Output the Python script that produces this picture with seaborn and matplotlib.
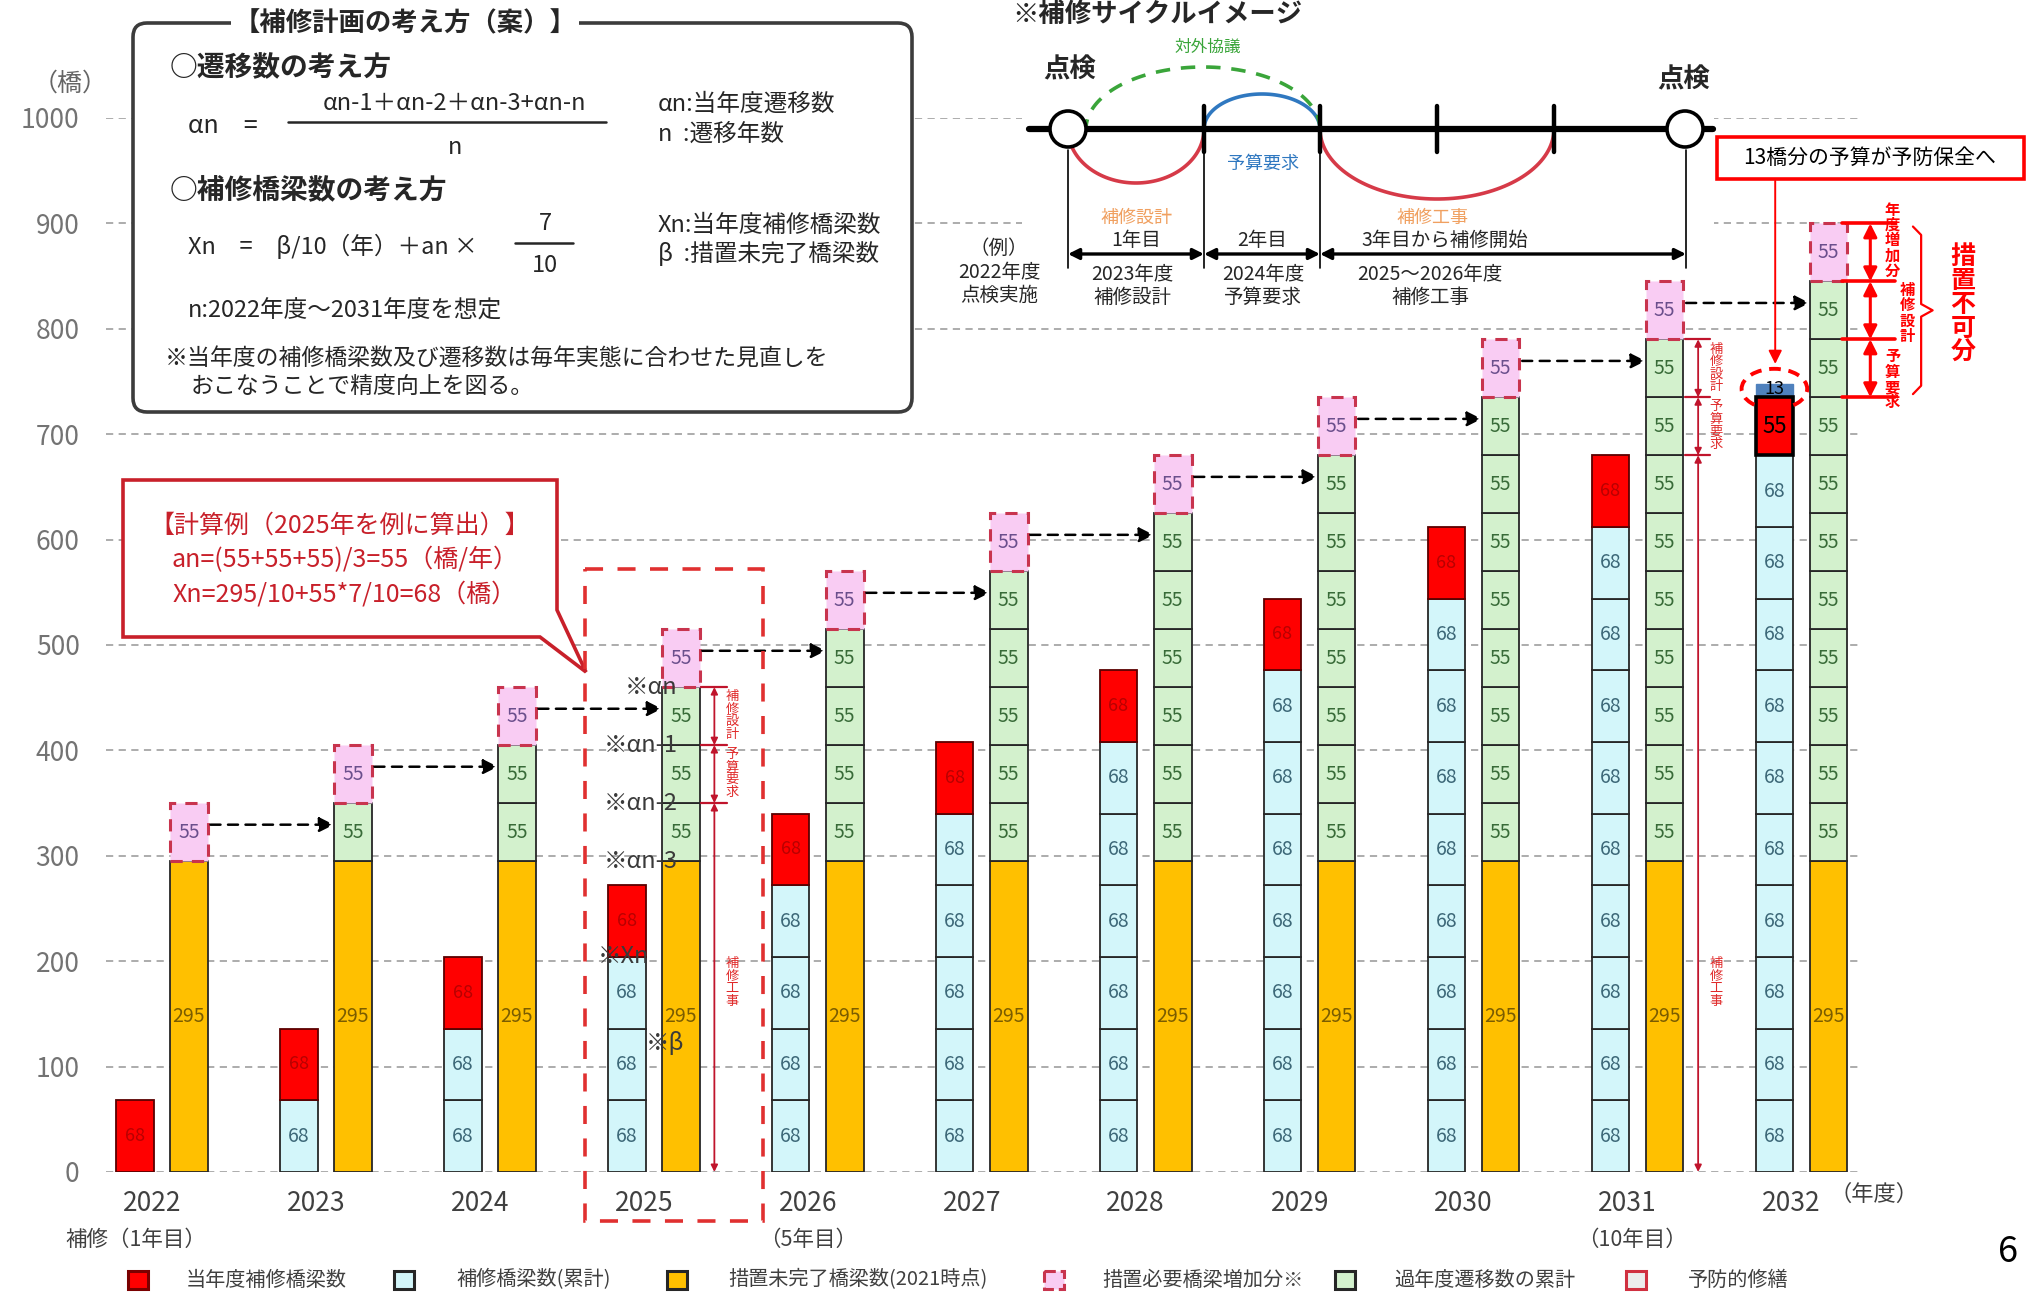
"""
plot.py
-------
Bridge repair plan chart (補修計画の考え方).
"""

import matplotlib
matplotlib.use("Agg")

import matplotlib.pyplot as plt
import numpy as np
import seaborn as sns
from matplotlib.patches import Rectangle, FancyBboxPatch, Ellipse, Circle, Polygon

# ---------------------------------
# Data
# ---------------------------------

years = ["2022", "2023", "2024", "2025", "2026", "2027", "2028", "2029", "2030", "2031", "2032"]

# 当年度補修橋梁数 (red, top of left bar)
current_repair = [68, 68, 68, 68, 68, 68, 68, 68, 68, 68, 55]

# 補修橋梁数(累計): number of 68-blocks under the red one
repair_blocks = [0, 1, 2, 3, 4, 5, 6, 7, 8, 9, 10]
repair_block = 68

# 予防的修繕 (blue)
preventive = [0, 0, 0, 0, 0, 0, 0, 0, 0, 0, 13]

# 措置未完了橋梁数(2021時点) (orange)
untreated = [295, 295, 295, 295, 295, 295, 295, 295, 295, 295, 295]

# 過年度遷移数の累計: number of 55-blocks on top of orange
transition_blocks = [0, 1, 2, 3, 4, 5, 6, 7, 8, 9, 10]
transition_block = 55

# 措置必要橋梁増加分 (pink dashed)
added = [55, 55, 55, 55, 55, 55, 55, 55, 55, 55, 55]

y_ticks = [0, 100, 200, 300, 400, 500, 600, 700, 800, 900, 1000]

# ---------------------------------
# Colours
# ---------------------------------

RED = "#ff0000"
CYAN = "#d3f6fa"
ORANGE = "#ffc000"
GREEN = "#d3f1cd"
PINK = "#f9ccf3"
PINK_EDGE = "#c8344e"
BLUE = "#4f81bd"
LINE = "#262626"
GRAY_TXT = "#404040"

sns.set_style("white")
plt.rcParams["font.family"] = ["Noto Sans CJK JP", "DejaVu Sans"]

W, H = 2028, 1295
fig = plt.figure(figsize=(W / 100, H / 100), dpi=100)
fig.patch.set_facecolor("white")

ax = fig.add_axes([0.0523, 0.0950, 0.8659, 0.8139])

pos = np.arange(len(years))
left = pos - 0.165
right = pos + 0.165
bw = 0.23


def vtext(s):
    return "\n".join(s)


# ---------------------------------
# Right bars: orange base via seaborn
# ---------------------------------

sns.barplot(
    x=right, y=untreated, native_scale=True, width=bw,
    color=ORANGE, saturation=1, edgecolor=LINE, linewidth=1.3,
    errorbar=None, ax=ax, zorder=2
)

for i in range(len(years)):
    ax.text(right[i], untreated[i] / 2, str(untreated[i]), ha="center", va="center",
            fontsize=14, color="#7a5c00", zorder=4)

    # green blocks
    base = untreated[i]
    for k in range(transition_blocks[i]):
        ax.bar(right[i], transition_block, bottom=base, width=bw, color=GREEN,
               edgecolor=LINE, linewidth=1.3, zorder=2)
        ax.text(right[i], base + transition_block / 2, str(transition_block),
                ha="center", va="center", fontsize=14, color="#386b38", zorder=4)
        base += transition_block

    # pink dashed block
    ax.bar(right[i], added[i], bottom=base, width=bw, color=PINK,
           edgecolor=PINK_EDGE, linewidth=2.2, linestyle=(0, (4, 3)), zorder=3)
    ax.text(right[i], base + added[i] / 2, str(added[i]), ha="center", va="center",
            fontsize=14, color="#6b4f8c", zorder=4)

# ---------------------------------
# Left bars: cumulative + current year
# ---------------------------------

for i in range(len(years)):
    base = 0
    for k in range(repair_blocks[i]):
        ax.bar(left[i], repair_block, bottom=base, width=bw, color=CYAN,
               edgecolor=LINE, linewidth=1.3, zorder=2)
        ax.text(left[i], base + repair_block / 2, str(repair_block),
                ha="center", va="center", fontsize=14, color="#3d6878", zorder=4)
        base += repair_block

    last = preventive[i] > 0
    ax.bar(left[i], current_repair[i], bottom=base, width=bw, color=RED,
           edgecolor="black" if last else "#5a0000",
           linewidth=2.6 if last else 1.3, zorder=3)
    ax.text(left[i], base + current_repair[i] / 2, str(current_repair[i]),
            ha="center", va="center", fontsize=16 if last else 13,
            color="black" if last else "#b80000", zorder=4)
    base += current_repair[i]

    if last:
        ax.bar(left[i], preventive[i], bottom=base, width=bw, color=BLUE,
               edgecolor=BLUE, linewidth=1, zorder=2)
        ax.text(left[i], base + preventive[i] / 2 + 1, str(preventive[i]),
                ha="center", va="center", fontsize=13, color="black", zorder=4)

# ---------------------------------
# Dashed arrows: pink block -> next year's green
# ---------------------------------

for i in range(len(years) - 1):
    y = untreated[i] + transition_block * transition_blocks[i] + added[i] / 2 + 7
    ax.annotate(
        "", xy=(right[i + 1] - bw / 2, y), xytext=(right[i] + bw / 2, y),
        arrowprops=dict(arrowstyle="-|>", color="black", lw=1.8,
                        linestyle=(0, (4, 3)), mutation_scale=22, shrinkA=2, shrinkB=0),
        zorder=5
    )

# ---------------------------------
# Red phase markers for 2025 and 2031
# ---------------------------------

for yr in ["2025", "2031"]:
    i = years.index(yr)
    top = untreated[i] + transition_block * transition_blocks[i]
    levels = [top, top - transition_block, top - 2 * transition_block, 0]
    xa = right[i] + 0.205
    for lv in levels[:3]:
        ax.plot([right[i] + 0.125, right[i] + 0.28], [lv, lv], color="#c0142c",
                lw=1.6, zorder=5, clip_on=False)
    for a, b in zip(levels[:-1], levels[1:]):
        ax.annotate("", xy=(xa, b), xytext=(xa, a),
                    arrowprops=dict(arrowstyle="<|-|>", color="#c0142c", lw=1.3,
                                    mutation_scale=10, shrinkA=0, shrinkB=0),
                    zorder=5)
    xt = right[i] + 0.315
    ax.text(xt, top - 27, vtext("補修設計"), ha="center", va="center", fontsize=9.5,
            color="#e02a2a", linespacing=0.95, zorder=5)
    ax.text(xt, top - 82, vtext("予算要求"), ha="center", va="center", fontsize=9.5,
            color="#e02a2a", linespacing=0.95, zorder=5)
    ax.text(xt, 180, vtext("補修工事"), ha="center", va="center", fontsize=9.5,
            color="#e02a2a", linespacing=0.95, zorder=5)

# ---------------------------------
# 2032 annotations
# ---------------------------------

i = len(years) - 1
top32 = untreated[i] + transition_block * transition_blocks[i] + added[i]
lv32 = [top32, top32 - added[i], top32 - added[i] - transition_block,
        top32 - added[i] - 2 * transition_block]

for lv in lv32:
    ax.plot([10.25, 10.57], [lv, lv], color="red", lw=2.6, zorder=5, clip_on=False)
for a, b in zip(lv32[:-1], lv32[1:]):
    ax.annotate("", xy=(10.42, b), xytext=(10.42, a),
                arrowprops=dict(arrowstyle="<|-|>", color="red", lw=2.2,
                                mutation_scale=20, shrinkA=0, shrinkB=0),
                annotation_clip=False, zorder=5)

ax.text(10.555, 884, vtext("年度増加分"), ha="center", va="center", fontsize=11,
        fontweight="bold", color="red", linespacing=0.95, clip_on=False)
ax.text(10.645, 815, vtext("補修設計"), ha="center", va="center", fontsize=11,
        fontweight="bold", color="red", linespacing=0.95, clip_on=False)
ax.text(10.555, 752, vtext("予算要求"), ha="center", va="center", fontsize=11,
        fontweight="bold", color="red", linespacing=0.95, clip_on=False)

# brace
bx0, bx1, bx2 = 10.68, 10.73, 10.80
by_top, by_bot = lv32[0] - 3, lv32[3] + 3
by_mid = (by_top + by_bot) / 2
ax.plot([bx0, bx1, bx1, bx2, bx1, bx1, bx0],
        [by_top, by_top - 8, by_mid + 6, by_mid, by_mid - 6, by_bot + 8, by_bot],
        color="red", lw=1.6, clip_on=False, zorder=5)
ax.text(10.985, 823, vtext("措置不可分"), ha="center", va="center", fontsize=18,
        fontweight="bold", color="red", linespacing=1.0, clip_on=False)

# dashed circle around the 13 block
ax.add_patch(Ellipse((left[i], 743), 0.40, 38, fill=False, edgecolor="red",
                     linestyle=(0, (3, 2)), lw=2.8, zorder=6, clip_on=False))
ax.annotate("", xy=(left[i] + 0.005, 764), xytext=(left[i] + 0.005, 943),
            arrowprops=dict(arrowstyle="-|>", color="red", lw=1.4, mutation_scale=20),
            annotation_clip=False, zorder=6)

# 2025 formula notes
i25 = years.index("2025")
note_x = right[i25] - 0.02
top25 = untreated[i25] + transition_block * transition_blocks[i25]
notes = [("※αn", top25), ("※αn-1", top25 - 55), ("※αn-2", top25 - 110),
         ("※αn-3", top25 - 165)]
for s, yv in notes:
    ax.text(note_x, yv, s, ha="right", va="center", fontsize=17, color="#3a3a3a", zorder=6)
ax.text(left[i25] + 0.14, 204, "※Xn", ha="right", va="center", fontsize=17,
        color="#3a3a3a", zorder=6)
ax.text(right[i25] + 0.02, 122, "※β", ha="right", va="center", fontsize=17,
        color="#3a3a3a", zorder=6)

# ---------------------------------
# Axes styling
# ---------------------------------

ax.set_xlim(-0.34, 10.37)
ax.set_ylim(0, 1000)
ax.set_yticks(y_ticks)
ax.set_xticks(pos - 0.06)
ax.set_xticklabels(years)
ax.set_xlabel("")
ax.set_ylabel("")
ax.yaxis.grid(True, linestyle=(0, (4, 3)), color="#a6a6a6", lw=1.3)
ax.xaxis.grid(False)
ax.set_axisbelow(True)
ax.tick_params(axis="y", length=0, pad=19, labelsize=19, labelcolor="#737373")
ax.tick_params(axis="x", length=0, pad=13, labelsize=19, labelcolor=GRAY_TXT)
sns.despine(ax=ax, left=True, bottom=True)

# ---------------------------------
# Overlay (figure pixel coordinates)
# ---------------------------------

ov = fig.add_axes([0, 0, 1, 1])
ov.set_xlim(0, W)
ov.set_ylim(H, 0)
ov.axis("off")
ov.set_zorder(5)

# axis captions
ov.text(70, 84, "（橋）", ha="center", va="center", fontsize=18, color="#666666")
ov.text(65, 1240, "補修（1年目）", ha="left", va="center", fontsize=15.5, color=GRAY_TXT)
ov.text(808, 1240, "（5年目）", ha="center", va="center", fontsize=15.5, color=GRAY_TXT)
ov.text(1632, 1240, "（10年目）", ha="center", va="center", fontsize=15.5, color=GRAY_TXT)
ov.text(1874, 1194, "（年度）", ha="center", va="center", fontsize=16, color=GRAY_TXT)
ov.text(2008, 1252, "6", ha="center", va="center", fontsize=26, color="black")

# --- concept box ---
ov.add_patch(FancyBboxPatch((133, 23), 779, 389, boxstyle="round,pad=0,rounding_size=14",
                            facecolor="white", edgecolor="#3c3c3c", lw=2.6))
ov.text(405, 24, "【補修計画の考え方（案）】", ha="center", va="center", fontsize=19,
        fontweight="bold", color="#262626",
        bbox=dict(facecolor="white", edgecolor="none", pad=2))
ov.text(170, 68, "○遷移数の考え方", ha="left", va="center", fontsize=20,
        fontweight="bold", color="#262626")
ov.text(188, 126, "αn　=", ha="left", va="center", fontsize=18, color="#262626")
ov.text(455, 103, "αn-1＋αn-2＋αn-3+αn-n", ha="center", va="center", fontsize=17,
        color="#262626")
ov.plot([288, 606], [122, 122], color="#262626", lw=1.8)
ov.text(455, 147, "n", ha="center", va="center", fontsize=17, color="#262626")
ov.text(658, 104, "αn:当年度遷移数", ha="left", va="center", fontsize=17, color="#262626")
ov.text(658, 134, "n  :遷移年数", ha="left", va="center", fontsize=17, color="#262626")

ov.text(170, 190, "○補修橋梁数の考え方", ha="left", va="center", fontsize=20,
        fontweight="bold", color="#262626")
ov.text(188, 246, "Xn　=　β/10（年）＋an ×", ha="left", va="center", fontsize=17,
        color="#262626")
ov.text(545, 224, "7", ha="center", va="center", fontsize=17, color="#262626")
ov.plot([515, 573], [243, 243], color="#262626", lw=1.8)
ov.text(545, 266, "10", ha="center", va="center", fontsize=17, color="#262626")
ov.text(658, 226, "Xn:当年度補修橋梁数", ha="left", va="center", fontsize=17, color="#262626")
ov.text(658, 254, "β  :措置未完了橋梁数", ha="left", va="center", fontsize=17, color="#262626")
ov.text(188, 311, "n:2022年度〜2031年度を想定", ha="left", va="center", fontsize=17,
        color="#262626")
ov.text(165, 358, "※当年度の補修橋梁数及び遷移数は毎年実態に合わせた見直しを",
        ha="left", va="center", fontsize=16.5, color="#262626")
ov.text(191, 386, "おこなうことで精度向上を図る。", ha="left", va="center", fontsize=16.5,
        color="#262626")

# --- calculation callout ---
ov.add_patch(Polygon([(123, 480), (557, 480), (557, 610), (586, 672), (540, 637),
                      (123, 637)], closed=True, facecolor="white",
                     edgecolor="#c8202a", lw=2.6))
ov.text(340, 526, "【計算例（2025年を例に算出）】", ha="center", va="center",
        fontsize=18, color="#c8202a")
ov.text(345, 560, "an=(55+55+55)/3=55（橋/年）", ha="center", va="center",
        fontsize=18, color="#c8202a")
ov.text(345, 594, "Xn=295/10+55*7/10=68（橋）", ha="center", va="center",
        fontsize=18, color="#c8202a")

# dashed frame around 2025
ov.add_patch(Rectangle((585, 569), 178, 652, fill=False, edgecolor="#e03030",
                       lw=2.6, linestyle=(0, (5, 4))))

# --- repair cycle image ---
ov.add_patch(Rectangle((1022, 0), 692, 275, facecolor="white", edgecolor="none"))
ov.text(1012, 15, "※補修サイクルイメージ", ha="left", va="center", fontsize=19,
        fontweight="bold", color="#262626")

cy = 129
t = np.linspace(0, np.pi, 80)
ov.plot(1136 + 68 * np.cos(t), cy + 54 * np.sin(t), color="#d63a48", lw=2.6)
ov.plot(1262 + 58 * np.cos(t), cy - 35 * np.sin(t), color="#2f78c0", lw=2.6)
ov.plot(1437 + 117 * np.cos(t), cy + 70 * np.sin(t), color="#d63a48", lw=2.6)
ov.plot(1203 + 117 * np.cos(t), cy - 62 * np.sin(t), color="#3aa53a", lw=2.6,
        linestyle=(0, (4, 3)))
ov.plot([1029, 1713], [cy, cy], color="black", lw=4.5)
for xt in [1204, 1320, 1437, 1554]:
    ov.plot([xt, xt], [cy - 23, cy + 23], color="black", lw=3.2)
for xc in [1068, 1685]:
    ov.add_patch(Circle((xc, cy), 18, facecolor="white", edgecolor="black", lw=2.6,
                        zorder=4))

ov.text(1208, 47, "対外協議", ha="center", va="center", fontsize=12, color="#3aa53a")
ov.text(1070, 70, "点検", ha="center", va="center", fontsize=19, fontweight="bold",
        color="#262626")
ov.text(1684, 80, "点検", ha="center", va="center", fontsize=19, fontweight="bold",
        color="#262626")
ov.text(1263, 164, "予算要求", ha="center", va="center", fontsize=13, color="#2f78c0")
ov.text(1136, 218, "補修設計", ha="center", va="center", fontsize=13, color="#f0a060")
ov.text(1432, 218, "補修工事", ha="center", va="center", fontsize=13, color="#f0a060")

for xv in [1068, 1204, 1320]:
    ov.plot([xv, xv], [150, 268], color="black", lw=1.2)
ov.plot([1686, 1686], [150, 268], color="black", lw=1.2)

for a, b in [(1068, 1204), (1204, 1320), (1320, 1686)]:
    ov.annotate("", xy=(b, 254), xytext=(a, 254),
                arrowprops=dict(arrowstyle="<|-|>", color="black", lw=2.4,
                                mutation_scale=16, shrinkA=0, shrinkB=0))
ov.text(1136, 240, "1年目", ha="center", va="center", fontsize=14, color="#262626")
ov.text(1262, 240, "2年目", ha="center", va="center", fontsize=14, color="#262626")
ov.text(1445, 240, "3年目から補修開始", ha="center", va="center", fontsize=14,
        color="#262626")
ov.text(999, 272, "（例）\n2022年度\n点検実施", ha="center", va="center", fontsize=14,
        color="#262626", linespacing=1.15)
ov.text(1132, 286, "2023年度\n補修設計", ha="center", va="center", fontsize=14,
        color="#262626", linespacing=1.15)
ov.text(1263, 286, "2024年度\n予算要求", ha="center", va="center", fontsize=14,
        color="#262626", linespacing=1.15)
ov.text(1430, 286, "2025〜2026年度\n補修工事", ha="center", va="center", fontsize=14,
        color="#262626", linespacing=1.15)

# red note box
ov.add_patch(Rectangle((1717, 137), 307, 42, facecolor="white", edgecolor="red", lw=2.6))
ov.text(1870, 158, "13橋分の予算が予防保全へ", ha="center", va="center", fontsize=15,
        color="black")

# ---------------------------------
# Legend (bottom row)
# ---------------------------------

legend_items = [
    ("当年度補修橋梁数", RED, "#7a0000", "-"),
    ("補修橋梁数(累計)", CYAN, LINE, "-"),
    ("措置未完了橋梁数(2021時点)", ORANGE, LINE, "-"),
    ("措置必要橋梁増加分※", PINK, PINK_EDGE, "--"),
    ("過年度遷移数の累計", GREEN, LINE, "-"),
    ("予防的修繕", "#ececec", "#d03040", "-"),
]
legend_sq_x = [138, 404, 677, 1054, 1345, 1636]
legend_txt_x = [186, 456, 728, 1102, 1394, 1688]

for (lab, fc, ec, ls), sx, tx in zip(legend_items, legend_sq_x, legend_txt_x):
    ov.add_patch(Rectangle((sx - 10, 1271), 20, 18, facecolor=fc, edgecolor=ec,
                           lw=2.2, linestyle=ls))
    ov.text(tx, 1280, lab, ha="left", va="center", fontsize=14.5, color=GRAY_TXT)

fig.savefig("out.png", dpi=100, facecolor="white")
plt.close(fig)
